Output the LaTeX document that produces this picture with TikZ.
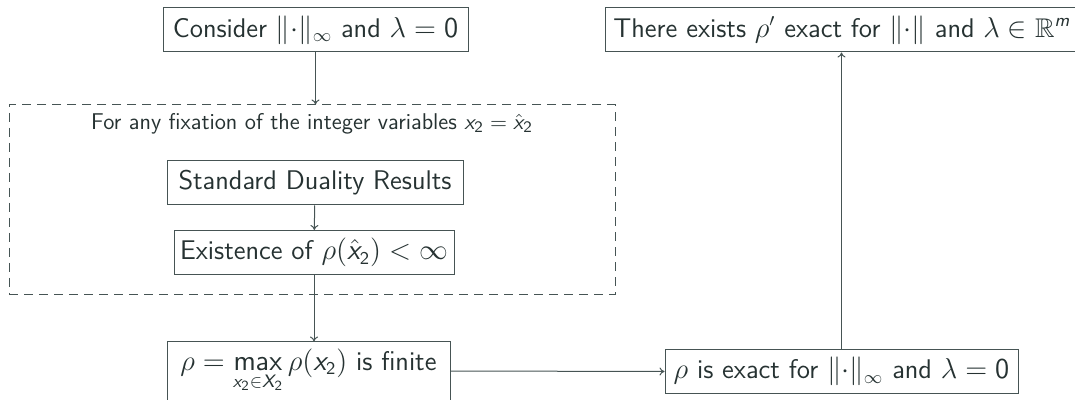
\documentclass[tikz,border=0pt]{standalone}
\usepackage{amssymb}
\renewcommand{\familydefault}{\sfdefault}
\DeclareMathAlphabet{\mathsfit}{OT1}{cmss}{m}{sl}
\newcommand{\xtwo}{\mathsfit{x}_{\mathsf{2}}}
\newcommand{\xhat}{\hat{\mathsfit{x}}_{\mathsf{2}}}
\newcommand{\nrm}{\|{\cdot}\|}
\definecolor{txt}{RGB}{38,50,50}
\definecolor{ln}{RGB}{70,84,84}
\usetikzlibrary{arrows.meta}
\begin{document}
\begin{tikzpicture}[x=0.5pt,y=-0.5pt,
  every node/.style={text=txt},
  box/.style={draw=ln,line width=0.5pt,font=\fontsize{13.5}{16}\selectfont,inner sep=0pt,minimum height=22pt},
  conn/.style={draw=ln,line width=0.5pt,-{To[length=2.5pt,width=4pt]}},
  frame/.style={draw=ln,line width=0.5pt,dash pattern=on 4.5pt off 3pt},
  lbl/.style={font=\fontsize{11.4}{13}\selectfont}]
\useasboundingbox (0,0) rectangle (1075,400);
\node[box,minimum width=152.5pt] (consider) at (315.5,30) {Consider $\nrm_\infty$ and $\lambda = \mathsf{0}$};
\node[box,minimum width=237pt] (exists) at (842,30) {There exists $\rho'$ exact for $\nrm$ and $\lambda \in \mathbb{R}^{\mathsfit{m}}$};
\node[frame,minimum width=303pt,minimum height=95pt,inner sep=0pt] (group) at (312,200) {};
\node[lbl] (fixlbl) at (312,124) {For any fixation of the integer variables $\xtwo = \xhat$};
\node[box,minimum width=148pt] (duality) at (315,183) {Standard Duality Results};
\node[box,minimum width=140pt] (existence) at (314,252.5) {Existence of $\rho(\xhat) < \infty$};
\node[box,minimum width=141.5pt,minimum height=29pt] (rhomax) at (308.5,371) {$\rho = \mathop{\mathsf{max}}\limits_{\xtwo \in \mathsfit{X}_{\mathsf{2}}} \rho(\xtwo)$ is finite};
\node[box,minimum width=176.5pt,minimum height=21.5pt] (exact) at (841.5,371.5) {$\rho$ is exact for $\nrm_\infty$ and $\lambda = \mathsf{0}$};
\draw[conn] (consider) -- (group.north -| consider.south);
\draw[conn] (duality) -- (existence);
\draw[conn] (existence) -- (rhomax.north -| existence.south);
\draw[conn] (rhomax.east) -- (exact.west);
\draw[conn] (exact) -- (exists.south -| exact.north);
\end{tikzpicture}
\end{document}
